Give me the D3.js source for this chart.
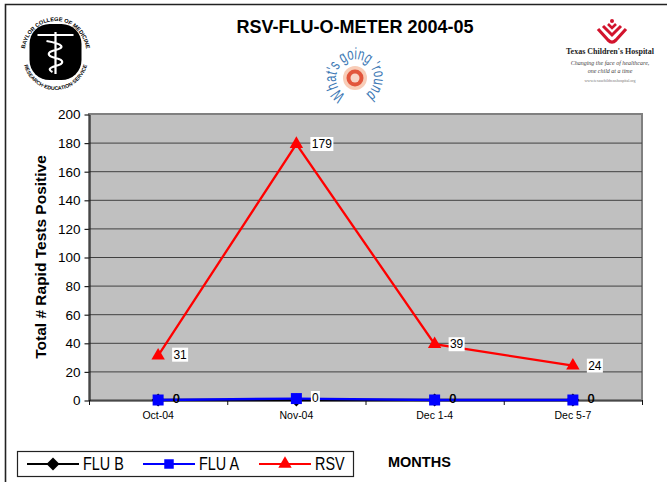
<!DOCTYPE html>
<html>
<head>
<meta charset="utf-8">
<script src="https://cdn.jsdelivr.net/npm/d3@7"></script>
<style>
  html, body { margin: 0; padding: 0; background: #fff; }
  svg { display: block; }
  text { font-family: "Liberation Sans", Arial, sans-serif; fill: #000; }
</style>
</head>
<body>
<div id="chart"></div>
<script>
const months = ['Oct-04', 'Nov-04', 'Dec 1-4', 'Dec 5-7'];
const fluB = [0, 0, 0, 0];
const fluA = [0, 1, 0, 0];
const rsv = [31, 179, 39, 24];
const yTicks = [0, 20, 40, 60, 80, 100, 120, 140, 160, 180, 200];
const seriesNames = ['FLU B', 'FLU A', 'RSV'];
const seriesColors = ['#000000', '#0000ff', '#ff0000'];
const nov0Label = '0';

const width = 667;
const height = 482;
const margin = {top: 114, right: 25, bottom: 82, left: 89};

const svg = d3.select('#chart').append('svg')
  .attr('width', width)
  .attr('height', height);

// page frame ------------------------------------------------------------
svg.append('path')
  .attr('d', 'M5.5,482V4.5H667')
  .attr('fill', 'none')
  .attr('stroke', '#222')
  .attr('stroke-width', 1.6);

// scales ------------------------------------------------------------
const x = d3.scaleBand().domain(months).range([margin.left, width - margin.right]);
const y = d3.scaleLinear().domain([0, 200]).range([height - margin.bottom, margin.top]);
const cx = d => x(d) + x.bandwidth() / 2;

// plot area ------------------------------------------------------------
svg.append('rect')
  .attr('x', margin.left)
  .attr('y', margin.top)
  .attr('width', width - margin.left - margin.right)
  .attr('height', height - margin.top - margin.bottom)
  .attr('fill', '#c0c0c0')
  .attr('stroke', '#808080')
  .attr('stroke-width', 2);

svg.append('g')
  .selectAll('line')
  .data(yTicks.filter(d => d > 0 && d < 200))
  .enter()
  .append('line')
  .attr('x1', margin.left)
  .attr('x2', width - margin.right)
  .attr('y1', d => y(d) + 0.5)
  .attr('y2', d => y(d) + 0.5)
  .attr('stroke', '#404040')
  .attr('stroke-width', 1);

// axes ------------------------------------------------------------
const yAxis = svg.append('g')
  .attr('transform', 'translate(' + (margin.left + 0.5) + ',0.5)')
  .call(d3.axisLeft(y).tickValues(yTicks).tickSize(5).tickPadding(4).tickSizeOuter(0));
yAxis.selectAll('text').attr('font-size', '13.5px').style('font-family', '"Liberation Sans", Arial, sans-serif');
yAxis.selectAll('line, path').attr('stroke', '#222').attr('stroke-width', 1.2);

const xAxis = svg.append('g')
  .attr('transform', 'translate(0,' + (y(0) + 0.5) + ')')
  .call(d3.axisBottom(x).tickSize(0).tickPadding(11));
xAxis.selectAll('text').attr('font-size', '10.5px').style('font-family', '"Liberation Sans", Arial, sans-serif');
xAxis.select('.domain').attr('stroke', '#111').attr('stroke-width', 1.2);

// tick marks sit between the categories
svg.append('g')
  .selectAll('line')
  .data(months.concat(['end']))
  .enter()
  .append('line')
  .attr('x1', (d, i) => margin.left + i * x.bandwidth() + 0.5)
  .attr('x2', (d, i) => margin.left + i * x.bandwidth() + 0.5)
  .attr('y1', y(0))
  .attr('y2', y(0) + 5)
  .attr('stroke', '#111');

// series ------------------------------------------------------------
const line = d3.line().x((d, i) => cx(months[i])).y(d => y(d));
// FLU B diamond is a rotated square, d3's own diamond is too tall
const symbols = [d3.symbolSquare, d3.symbolSquare, d3.symbolTriangle];
const symbolSizes = [85, 121, 78];
const symbolRotate = [45, 0, 0];

[fluB, fluA, rsv].forEach((vals, s) => {
  const g = svg.append('g').attr('class', 'series');
  g.append('path')
    .attr('d', line(vals))
    .attr('fill', 'none')
    .attr('stroke', seriesColors[s])
    .attr('stroke-width', 2.3);
  g.selectAll('path.mark')
    .data(vals)
    .enter()
    .append('path')
    .attr('class', 'mark')
    .attr('d', d3.symbol().type(symbols[s]).size(symbolSizes[s]))
    .attr('transform', (d, i) => 'translate(' + cx(months[i]) + ',' + y(d) + ') rotate(' + symbolRotate[s] + ')')
    .attr('fill', seriesColors[s]);
});

// data labels ------------------------------------------------------------
function labelWidth(txt) {
  return String(txt).length * 7 + 2;
}
function dataLabel(txt, px, py, bg) {
  const g = svg.append('g');
  const w = labelWidth(txt);
  if (bg) {
    g.append('rect')
      .attr('x', px - w / 2)
      .attr('y', py - 7)
      .attr('width', w)
      .attr('height', 14)
      .attr('fill', '#fff');
  }
  g.append('text')
    .attr('x', px)
    .attr('y', py + 4)
    .attr('text-anchor', 'middle')
    .attr('font-size', '12px')
    .text(txt);
}
rsv.forEach((v, i) => dataLabel(v, cx(months[i]) + 14 + labelWidth(v) / 2, y(v) + (i === 0 ? -1 : 0), true));
[0, 2, 3].forEach(i => {
  dataLabel(fluB[i], cx(months[i]) + 18, y(0) - 1, false);
  dataLabel(fluA[i], cx(months[i]) + 18.5, y(0) - 1, false);
});
dataLabel(nov0Label, cx(months[1]) + 19, y(0) - 2, true);

// titles ------------------------------------------------------------
svg.append('text')
  .attr('x', 355)
  .attr('y', 33)
  .attr('text-anchor', 'middle')
  .attr('font-size', '18px')
  .attr('font-weight', 'bold')
  .text('RSV-FLU-O-METER 2004-05');

svg.append('text')
  .attr('transform', 'translate(46,257) rotate(-90)')
  .attr('text-anchor', 'middle')
  .attr('font-size', '15.5px')
  .attr('font-weight', 'bold')
  .text('Total # Rapid Tests Positive');

svg.append('text')
  .attr('x', 388)
  .attr('y', 467)
  .attr('font-size', '14.5px')
  .attr('font-weight', 'bold')
  .text('MONTHS');

// legend ------------------------------------------------------------
const legend = svg.append('g');
legend.append('rect')
  .attr('x', 17.5)
  .attr('y', 451.5)
  .attr('width', 336)
  .attr('height', 25)
  .attr('fill', '#fff')
  .attr('stroke', '#222')
  .attr('stroke-width', 1.2);

const legendX = [27, 143, 259];
seriesNames.forEach((name, s) => {
  const g = legend.append('g').attr('transform', 'translate(' + legendX[s] + ',464)');
  g.append('line')
    .attr('x1', 0)
    .attr('x2', 52)
    .attr('stroke', seriesColors[s])
    .attr('stroke-width', 2.2);
  g.append('path')
    .attr('d', d3.symbol().type(symbols[s]).size(s === 1 ? 90 : symbolSizes[s]))
    .attr('transform', 'translate(26,0) rotate(' + symbolRotate[s] + ')')
    .attr('fill', seriesColors[s]);
  // the reference legend face is a narrow one, squeeze it sideways
  g.append('text')
    .attr('transform', 'translate(56,6) scale(0.8,1)')
    .attr('font-size', '18px')
    .text(name);
});

// logos ------------------------------------------------------------
const defs = svg.append('defs');

// Baylor seal
const baylor = svg.append('g').attr('transform', 'translate(55.5,52)');
baylor.append('rect')
  .attr('x', -26)
  .attr('y', -28)
  .attr('width', 52)
  .attr('height', 56)
  .attr('rx', 20)
  .attr('fill', '#000');
defs.append('path').attr('id', 'baylor-top').attr('d', 'M-31,2A31,33 0 0 1 31,2');
defs.append('path').attr('id', 'baylor-bottom').attr('d', 'M-33,3A33,35 0 0 0 33,3');
baylor.append('text').attr('font-size', '5.6px').attr('font-weight', 'bold')
  .append('textPath').attr('href', '#baylor-top').attr('startOffset', '50%').attr('text-anchor', 'middle')
  .text('BAYLOR COLLEGE OF MEDICINE');
baylor.append('text').attr('font-size', '5.2px').attr('font-weight', 'bold')
  .append('textPath').attr('href', '#baylor-bottom').attr('startOffset', '50%').attr('text-anchor', 'middle')
  .text('RESEARCH·EDUCATION·SERVICE');
baylor.append('path')
  .attr('d', 'M0,-20V22M-18,-17H18M-9,-11C9,-8 9,-4 0,-2C-9,0 -9,4 0,6C9,8 9,12 0,14C-7,16 -7,18 -3,20')
  .attr('fill', 'none')
  .attr('stroke', '#fff')
  .attr('stroke-width', 2.2);

// What's going 'round badge
const round = svg.append('g').attr('transform', 'translate(355,78)');
defs.append('path').attr('id', 'round-ring').attr('d', 'M-9,17A19,19 0 1 1 9,17');
round.append('text')
  .attr('font-size', '16.5px')
  .style('fill', '#3c78b4')
  .append('textPath').attr('href', '#round-ring')
  .attr('textLength', 98)
  .attr('lengthAdjust', 'spacingAndGlyphs')
  .text("What's going 'round");
round.append('circle').attr('r', 12).attr('fill', '#f8cdb8');
round.append('circle').attr('r', 8.5).attr('fill', '#e2553c');
round.append('circle').attr('r', 4.5).attr('fill', '#f8d5c8');

// Texas Children's logo
const tchMark = svg.append('g').attr('transform', 'translate(612,0)');
tchMark.append('circle').attr('cx', 0).attr('cy', 21).attr('r', 2).attr('fill', '#d2142d');
tchMark.append('path')
  .attr('d', 'M-4,24L0,28L4,24')
  .attr('fill', 'none').attr('stroke', '#d2142d').attr('stroke-width', 2.6);
tchMark.append('path')
  .attr('d', 'M-9,26L0,35L9,26')
  .attr('fill', 'none').attr('stroke', '#d2142d').attr('stroke-width', 3);
tchMark.append('path')
  .attr('d', 'M-14,29L-4,40Q0,44 4,40L14,29')
  .attr('fill', 'none').attr('stroke', '#d2142d').attr('stroke-width', 3.2);

const tch = svg.append('g').attr('transform', 'translate(610,0)');
const tchText = [
  ["Texas Children's Hospital", 54, '8px', 'bold', 'normal', '#222'],
  ['Changing the face of healthcare,', 65, '6px', 'normal', 'italic', '#444'],
  ['one child at a time', 73, '6px', 'normal', 'italic', '#444'],
  ['www.texaschildrenshospital.org', 82, '4px', 'normal', 'normal', '#777']
];
tch.selectAll('text')
  .data(tchText)
  .enter()
  .append('text')
  .attr('y', d => d[1])
  .attr('text-anchor', 'middle')
  .attr('font-size', d => d[2])
  .attr('font-weight', d => d[3])
  .attr('font-style', d => d[4])
  .style('font-family', '"Liberation Serif", serif')
  .style('fill', d => d[5])
  .text(d => d[0]);
</script>
</body>
</html>
